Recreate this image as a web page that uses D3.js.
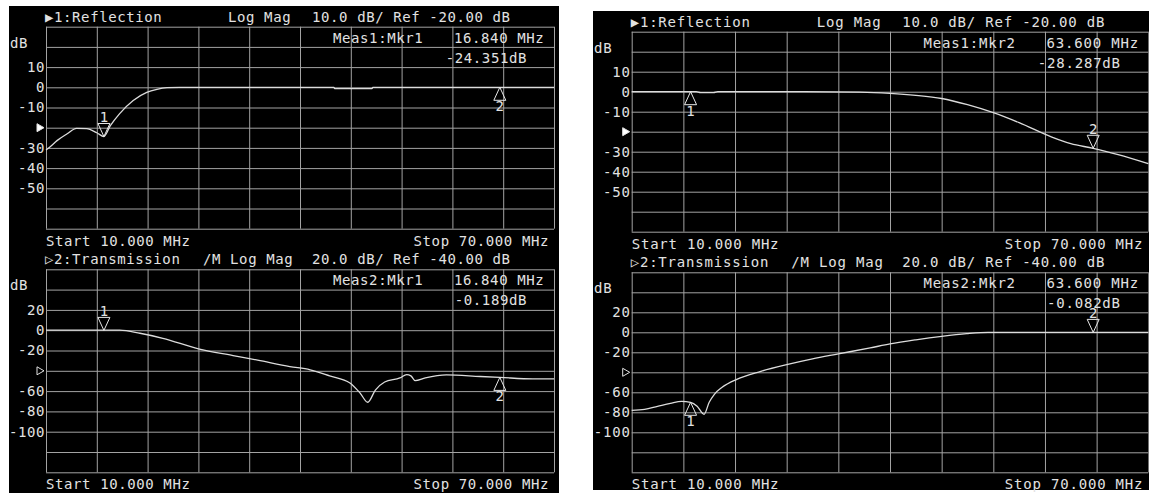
<!DOCTYPE html>
<html>
<head>
<meta charset="utf-8">
<script src="https://cdn.jsdelivr.net/npm/d3@7"></script>
<style>
  body { margin: 0; background: #fff; }
  svg text { font-family: "DejaVu Sans Mono", monospace; font-size: 14px; fill: #e2e2e2; }
</style>
</head>
<body>
<svg id="chart" width="1149" height="493"></svg>
<script>
// sweep and axis labels
const freqTicks = [10, 16, 22, 28, 34, 40, 46, 52, 58, 64, 70];
const reflTicks = [30, 20, 10, 0, -10, -20, -30, -40, -50, -60, -70];
const reflTickLabels = ['', '', '10', '0', '-10', '', '-30', '-40', '-50', '', ''];
const transTicks = [60, 40, 20, 0, -20, -40, -60, -80, -100, -120, -140];
const transTickLabels = ['', '', '20', '0', '-20', '', '-60', '-80', '-100', '', ''];

const markerFreq = [16.84, 63.6];

// left screen, reflection trace
const leftReflFreq = [10, 10.6, 11.3, 12.5, 13.6, 14.8, 16.0, 16.84, 17.6, 18.7, 20.3, 21.9, 23.1, 24.3, 25.8, 44.0, 44.1, 48.5, 48.6, 70];
const leftReflDb = [-31, -29, -26.4, -23, -20.3, -20.5, -22.5, -24.35, -19, -13, -6.5, -2.5, -1, -0.2, 0, 0, -0.7, -0.7, 0, 0];
const leftReflMarkerDb = [-24.351, 0];

// left screen, transmission trace
const leftTransFreq = [10, 18.7, 21.1, 23.8, 28.0, 32.1, 35.0, 38.8, 41.2, 43.5, 45.9, 47.1, 48.0, 48.9, 50.0, 51.8, 52.6, 53.1, 53.6, 54.8, 57.3, 61.3, 63.6, 67.5, 70];
const leftTransDb = [0, 0, -3, -8, -18.4, -25, -29.5, -35.8, -39, -45, -52, -62, -71, -59, -51, -47, -43.7, -45, -49.7, -47, -44, -45.6, -46.5, -48, -48];
const leftTransMarkerDb = [-0.189, -46.5];

// right screen, reflection trace
const rightReflFreq = [10, 17.5, 18.0, 19.5, 20.0, 30, 36.5, 40, 43, 46, 49, 52, 55, 58.8, 61, 63.6, 66.5, 70];
const rightReflDb = [0, 0, -0.5, -0.5, 0, 0, -0.2, -0.8, -1.8, -3.4, -6.5, -10.5, -15.5, -22.7, -26, -28.3, -31.5, -36];
const rightReflMarkerDb = [0, -28.287];

// right screen, transmission trace
const rightTransFreq = [10, 11.5, 13, 14.5, 15.8, 16.84, 17.6, 18.4, 19.0, 19.6, 20.5, 22.2, 25, 28, 31, 34, 37.7, 40, 43, 46, 48.9, 51.4, 70];
const rightTransDb = [-78, -77, -74, -71, -69, -70, -74, -82, -70, -62, -55, -47, -39, -32.3, -26.5, -21.6, -15.6, -11.6, -7.5, -4, -1.3, 0, 0];
const rightTransMarkerDb = [-70, -0.082];

const gridColor = '#a3a3a3';
const traceColor = '#dcdcdc';

const svg = d3.select('#chart');

const screens = [
  {
    bg: [9, 6, 550, 487], left: 46, right: 554, topY: [26.7, 228.7], botY: [269.3, 472.3], ls: 0.6, active: 0,
    meas: ['Meas1:Mkr1', 'Meas2:Mkr1'], freqText: '16.840 MHz', values: ['-24.351dB', '-0.189dB'],
    refl: [leftReflFreq, leftReflDb, leftReflMarkerDb], trans: [leftTransFreq, leftTransDb, leftTransMarkerDb]
  },
  {
    bg: [593, 11, 556, 479], left: 631.7, right: 1148.3, topY: [31.7, 231.7], botY: [272.3, 472.3], ls: 0.8, active: 1,
    meas: ['Meas1:Mkr2', 'Meas2:Mkr2'], freqText: '63.600 MHz', values: ['-28.287dB', '-0.082dB'],
    refl: [rightReflFreq, rightReflDb, rightReflMarkerDb], trans: [rightTransFreq, rightTransDb, rightTransMarkerDb]
  }
];

function addText(g, x, y, str, ls, anchor) {
  return g.append('text')
    .attr('x', x)
    .attr('y', y + 5)
    .attr('text-anchor', anchor || 'start')
    .attr('letter-spacing', ls)
    .text(str);
}

function drawPlot(g, s, yRange, ticks, tickLabels, refFilled, trace, titles, measIdx) {
  const x = d3.scaleLinear().domain([10, 70]).range([s.left, s.right]);
  const y = d3.scaleLinear().domain([ticks[0], ticks[ticks.length - 1]]).range(yRange);
  const w = s.right - s.left;
  const h = yRange[1] - yRange[0];
  const k = w / 508;

  // grid
  const gx = g.append('g')
    .attr('transform', `translate(0,${yRange[1]})`)
    .call(d3.axisBottom(x).tickValues(freqTicks).tickSize(-h).tickFormat(''));
  const gy = g.append('g')
    .attr('transform', `translate(${s.left},0)`)
    .call(d3.axisLeft(y).tickValues(ticks).tickSize(-w).tickPadding(1)
      .tickFormat((d, i) => tickLabels[i]));
  [gx, gy].forEach(a => {
    a.select('.domain').remove();
    a.selectAll('line').attr('stroke', gridColor).attr('stroke-width', 1);
    a.selectAll('text').attr('fill', '#e2e2e2').attr('letter-spacing', s.ls)
      .style('font-family', '"DejaVu Sans Mono", monospace').style('font-size', '14px');
  });

  // reference level arrow
  const ry = y(ticks[5]);
  g.append('path')
    .attr('d', `M${s.left - 9},${ry - 4}L${s.left - 2},${ry}L${s.left - 9},${ry + 4}Z`)
    .attr('fill', refFilled ? '#ffffff' : 'none')
    .attr('stroke', '#e2e2e2')
    .attr('stroke-width', 1);

  addText(g, s.bg[0] + 1, yRange[0] + 16, 'dB', s.ls);

  // header
  const ty = yRange[0] - 10;
  addText(g, s.left - 1, ty, titles[0], s.ls);
  addText(g, s.left + titles[3] * k, ty, titles[1], s.ls);
  addText(g, s.left + 266 * k, ty, titles[2], s.ls);

  // marker readout
  addText(g, s.left + 287 * k, yRange[0] + 11, s.meas[measIdx], s.ls);
  addText(g, s.left + 408 * k, yRange[0] + 11, s.freqText, s.ls);
  addText(g, s.left + 481 * k, yRange[0] + 31, s.values[measIdx], s.ls, 'end');

  // footer
  addText(g, s.left, yRange[1] + 12, 'Start 10.000 MHz', s.ls);
  addText(g, s.right - 5, yRange[1] + 12, 'Stop 70.000 MHz', s.ls, 'end');

  // trace
  const pts = trace[0].map((f, i) => [f, trace[1][i]]);
  const line = d3.line()
    .x(d => x(d[0]))
    .y(d => y(d[1]))
    .curve(d3.curveMonotoneX);
  g.append('path')
    .datum(pts)
    .attr('fill', 'none')
    .attr('stroke', traceColor)
    .attr('stroke-width', 1.3)
    .attr('d', line);

  // markers
  markerFreq.forEach((f, i) => {
    const mx = x(f);
    const my = y(trace[2][i]);
    const active = i === s.active;
    const dir = active ? -1 : 1;
    g.append('path')
      .attr('d', `M${mx},${my}L${mx - 6},${my + dir * 13}L${mx + 6},${my + dir * 13}Z`)
      .attr('fill', 'none')
      .attr('stroke', '#e8e8e8')
      .attr('stroke-width', 1);
    addText(g, mx, my + dir * 19, String(i + 1), 0, 'middle');
  });
}

screens.forEach(s => {
  const g = svg.append('g');
  g.append('rect')
    .attr('x', s.bg[0]).attr('y', s.bg[1])
    .attr('width', s.bg[2]).attr('height', s.bg[3])
    .attr('fill', '#000');
  drawPlot(g, s, s.topY, reflTicks, reflTickLabels, true, s.refl,
    ['▶1:Reflection', 'Log Mag', '10.0 dB/ Ref -20.00 dB', 182], 0);
  drawPlot(g, s, s.botY, transTicks, transTickLabels, false, s.trans,
    ['▷2:Transmission', '/M Log Mag', '20.0 dB/ Ref -40.00 dB', 157], 1);
});
</script>
</body>
</html>
